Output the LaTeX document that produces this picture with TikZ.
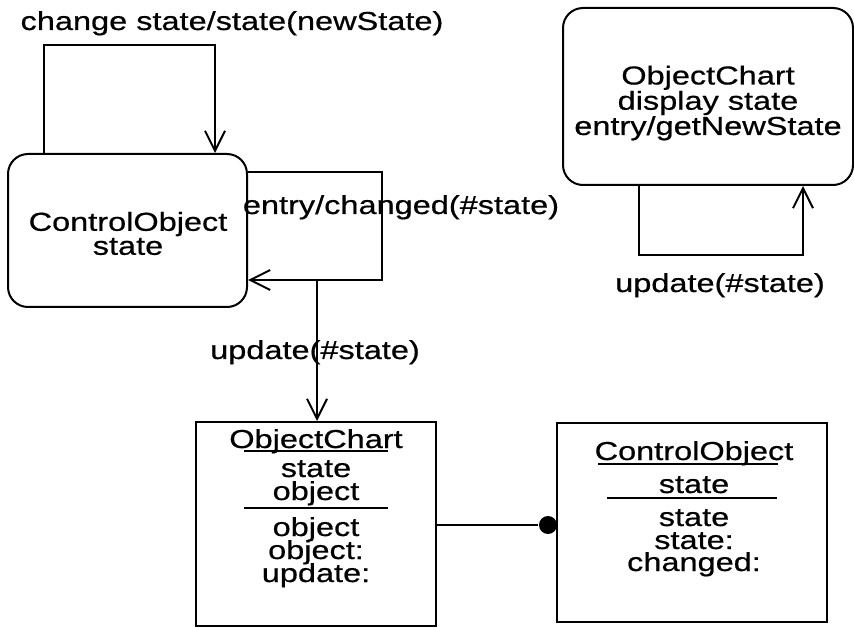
\documentclass[tikz,border=0pt]{standalone}
\usepackage{fontspec}
\setmainfont{Liberation Sans}[FakeStretch=1.25,FakeBold=0.6]
\usetikzlibrary{arrows.meta}
\begin{document}
\begin{tikzpicture}[x=1pt,y=-1pt, line width=2pt,
  txt/.style={font=\fontsize{26}{24}\selectfont, inner sep=0pt},
  sbox/.style={draw, rounded corners=20pt, inner sep=0pt},
  cbox/.style={draw, inner sep=0pt},
  harrow/.style={-{Straight Barb[length=20pt,width=20pt,line width=2pt]}}]
\useasboundingbox (0,0) rectangle (854,628);

% state boxes
\node[sbox, minimum width=239pt, minimum height=153pt] (cos) at (127.5,230.5) {};
\node[txt, align=center] (cost) at (128,233.5) {ControlObject\\state};
\node[sbox, minimum width=290pt, minimum height=177pt] (ocs) at (708,96.5) {};
\node[txt, align=center] (ocst) at (708,103) {ObjectChart\\display state\\entry/getNewState};

% self loop on ControlObject state
\draw[harrow] (44,0 |- cos.north) -- (44,45) -- (215,45) -- (215,0 |- cos.north);
\node[txt, anchor=base] (lab1) at (232,30) {change state/state(newState)};

% entry loop
\draw[harrow] (cos.east |- 0,172) -- (382,172) -- (382,280) -- (cos.east |- 0,280);
\node[txt, anchor=base] (lab2) at (401,214) {entry/changed(\#state)};

% class box ObjectChart
\node[cbox, minimum width=240pt, minimum height=204pt] (ocb) at (316,524) {};
\coordinate (u0) at (317,280);
\draw[harrow] (u0) -- (u0 |- ocb.north);
\node[txt, anchor=base] (lab3) at (315,359) {update(\#state)};

% display loop
\draw[harrow] (639,0 |- ocs.south) -- (639,255) -- (803,255) -- (803,0 |- ocs.south);
\node[txt, anchor=base] (lab4) at (720,292) {update(\#state)};

% ObjectChart class texts
\node[txt, anchor=base] (oc1) at (316,448) {ObjectChart};
\node[txt, anchor=base] (oc2) at (316,477) {state};
\node[txt, anchor=base] (oc3) at (316,500) {object};
\node[txt, anchor=base] (oc4) at (316,536) {object};
\node[txt, anchor=base] (oc5) at (316,559) {object:};
\node[txt, anchor=base] (oc6) at (316,582) {update:};
\draw (244,451) -- (388,451);
\draw (244,508) -- (388,508);

% ControlObject class box
\node[cbox, minimum width=270pt, minimum height=199pt] (cob) at (692,522.5) {};
\node[txt, anchor=base] (co1) at (694,460) {ControlObject};
\node[txt, anchor=base] (co2) at (694,493) {state};
\node[txt, anchor=base] (co3) at (694,526) {state};
\node[txt, anchor=base] (co4) at (694,549) {state:};
\node[txt, anchor=base] (co5) at (694,571) {changed:};
\draw (598,464) -- (778,464);
\draw (607,498) -- (777,498);

% association
\node[circle, fill, inner sep=0pt, minimum size=18pt] (dot) at (548,525) {};
\draw (ocb.east |- dot) -- (dot);
\end{tikzpicture}
\end{document}
